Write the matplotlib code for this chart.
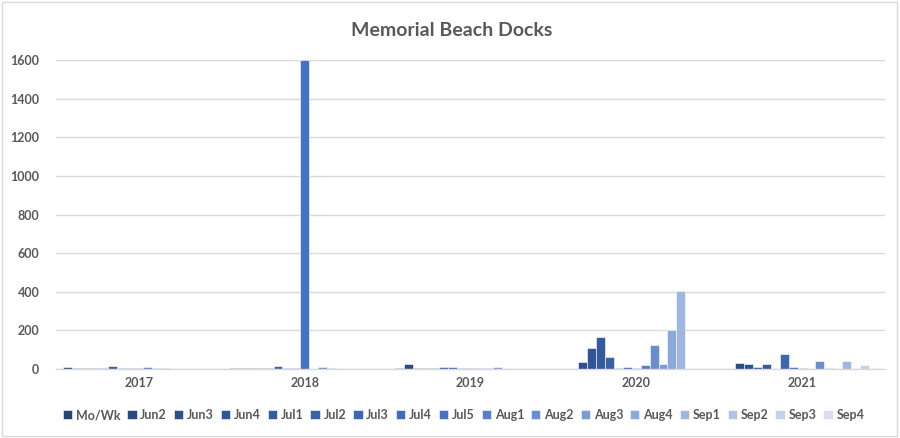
import numpy as np
import matplotlib
matplotlib.use("Agg")
from matplotlib import pyplot as plt
from matplotlib.patches import Rectangle

plt.rcParams['font.family'] = ['Lato', 'DejaVu Sans']

years = ['2017', '2018', '2019', '2020', '2021']
series = ['Mo/Wk', 'Jun2', 'Jun3', 'Jun4', 'Jul1', 'Jul2', 'Jul3', 'Jul4', 'Jul5',
          'Aug1', 'Aug2', 'Aug3', 'Aug4', 'Sep1', 'Sep2', 'Sep3', 'Sep4']

# one list per year, one value per week column
v2017 = [12, 7, 7, 7, 7, 14, 7, 7, 7, 12, 7, 7, 0, 0, 0, 0, 0]
v2018 = [7, 7, 7, 7, 7, 15, 7, 7, 1600, 0, 12, 7, 0, 0, 0, 0, 0]
v2019 = [7, 26, 7, 7, 7, 12, 12, 7, 7, 7, 7, 12, 0, 0, 0, 0, 0]
v2020 = [0, 0, 35, 111, 167, 63, 6, 10, 6, 21, 123, 25, 200, 403, 0, 0, 0]
v2021 = [0, 33, 24, 10, 28, 0, 76, 12, 7, 0, 43, 7, 0, 43, 0, 22, 0]

colors = ['#264478', '#2a4a82', '#2e508b', '#315595', '#355b9e', '#3961a8',
          '#3d67b1', '#406cbb', '#4472c4', '#5680ca', '#698dcf', '#7b9bd5',
          '#8da8da', '#9fb6e0', '#b2c3e5', '#c4d1eb', '#d6def0']

txt = '#595959'
grid = '#d9d9d9'

data = np.array([v2017, v2018, v2019, v2020, v2021])

fig = plt.figure(figsize=(9, 4.38), dpi=100)
ax = fig.add_axes([56/900, 1-369/438, (885-56)/900, (369-60)/438])

x = np.arange(len(years))
w = 0.0537
for i, name in enumerate(series):
    ax.bar(x + (i - 8) * w, data[:, i], width=w, color=colors[i],
           edgecolor='white', linewidth=0.4, label=name, zorder=2)

ax.set_xlim(-0.5, 4.5)
ax.set_ylim(0, 1600)
ax.set_yticks(np.arange(0, 1601, 200))
ax.set_xticks(x)
ax.set_xticklabels(years)
ax.yaxis.grid(True, color=grid, linewidth=1, zorder=0)
ax.set_axisbelow(True)
for s in ['top', 'right', 'left']:
    ax.spines[s].set_visible(False)
ax.spines['bottom'].set_color(grid)
ax.spines['bottom'].set_linewidth(1)
ax.tick_params(axis='both', length=0, labelsize=9, labelcolor=txt)
ax.tick_params(axis='y', pad=12)
ax.tick_params(axis='x', pad=6)
for lab in ax.get_xticklabels() + ax.get_yticklabels():
    lab.set_fontweight('bold')

fig.text(0.502, 1-30/438, 'Memorial Beach Docks', ha='center', va='center',
         fontsize=14, fontweight='bold', color=txt)

leg = fig.legend(loc='center', bbox_to_anchor=(0.515, 1-415/438), ncol=17,
                 frameon=False, handlelength=0.75, handleheight=0.75,
                 handletextpad=0.3, columnspacing=0.55,
                 prop={'weight': 'bold', 'size': 9})
for t in leg.get_texts():
    t.set_color(txt)

fig.patches.append(Rectangle((2/900, 2/438), 895/900, 434/438, transform=fig.transFigure,
                             fill=False, edgecolor=grid, linewidth=1))

fig.savefig('out.png', dpi=100)
